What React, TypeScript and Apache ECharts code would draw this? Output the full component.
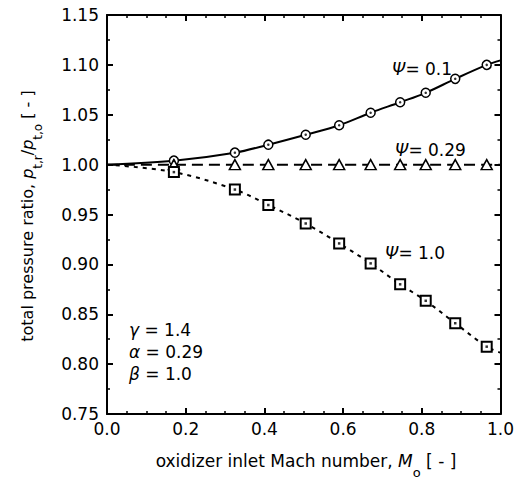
import React, { useEffect, useRef } from "react";
import * as echarts from "echarts";

// Oxidizer inlet Mach numbers of the plotted markers
const machPts = [0.17, 0.325, 0.41, 0.505, 0.59, 0.67, 0.745, 0.81, 0.885, 0.965];
// Total pressure ratio at the markers
const psi01 = [1.004, 1.012, 1.02, 1.03, 1.0395, 1.052, 1.0625, 1.072, 1.086, 1.1];
const psi029 = [1.0, 1.0, 1.0, 1.0, 1.0, 1.0, 1.0, 1.0, 1.0, 1.0];
const psi10 = [0.9925, 0.975, 0.9595, 0.941, 0.921, 0.901, 0.88, 0.8635, 0.841, 0.8175];
// Curve end points (M = 0 and M = 1)
const curveStartM = 0;
const curveEndM = 1.0;
const psi01Start = 1.0;
const psi01End = 1.1045;
const psi029Start = 1.0;
const psi029End = 1.0;
const psi10Start = 1.0;
const psi10End = 0.8115;

const xTicks = { min: 0, max: 1, step: 0.2 };
const yTicks = { min: 0.75, max: 1.15, step: 0.05 };

const FONT = "DejaVu Sans, Liberation Sans, Arial, sans-serif";

const pairs = (xs: number[], ys: number[]) => xs.map((x, i) => [x, ys[i]]);
const curve = (x0: number, y0: number, xs: number[], ys: number[], x1: number, y1: number) =>
  [[x0, y0], ...pairs(xs, ys), [x1, y1]];

export default function App() {
  const ref = useRef<HTMLDivElement>(null);
  useEffect(() => {
    if (!ref.current) return;
    const chart = echarts.init(ref.current, null, { renderer: "svg" });
    const black = "#000";
    const axisCommon = {
      type: "value" as const,
      axisLine: { show: true, onZero: false, lineStyle: { color: black, width: 2 } },
      axisTick: { show: true, inside: true, length: 6, lineStyle: { color: black, width: 2 } },
      minorTick: { show: true, length: 3, lineStyle: { color: black, width: 1.5 } },
      splitLine: { show: false },
      minorSplitLine: { show: false },
    };
    const xAxisBase = {
      ...axisCommon,
      min: xTicks.min,
      max: xTicks.max,
      interval: xTicks.step,
      minorTick: { ...axisCommon.minorTick, splitNumber: 4 },
    };
    const yAxisBase = {
      ...axisCommon,
      min: yTicks.min,
      max: yTicks.max,
      interval: yTicks.step,
      minorTick: { ...axisCommon.minorTick, splitNumber: 2 },
    };
    const lineSeries = (data: number[][], dash: any) => ({
      type: "line",
      data,
      smooth: 0.35,
      showSymbol: false,
      symbol: "none",
      lineStyle: { color: black, width: 2, type: dash },
      z: 2,
      silent: true,
    });
    const markerSeries = (data: number[][], symbol: string, size: any, bw: number) => ({
      type: "scatter",
      data,
      symbol,
      symbolSize: size,
      itemStyle: { color: "#fff", borderColor: black, borderWidth: bw, opacity: 1 },
      z: 3,
    });
    const dotSeries = (data: number[][], symbol: string) => ({
      type: "scatter",
      data,
      symbol,
      symbolSize: 2.5,
      itemStyle: { color: black },
      z: 4,
    });

    const subRich = {
      n: { fontSize: 17, fontFamily: FONT, color: black, lineHeight: 20 },
      i: { fontSize: 17, fontFamily: FONT, color: black, fontStyle: "italic", lineHeight: 20 },
      s: { fontSize: 13, fontFamily: FONT, color: black, lineHeight: 13, padding: [22, 0, 0, 0] },
    };
    const subRichY = {
      n: { fontSize: 16, fontFamily: FONT, color: black, lineHeight: 20 },
      i: { fontSize: 16, fontFamily: FONT, color: black, fontStyle: "italic", lineHeight: 20 },
      s: { fontSize: 12, fontFamily: FONT, color: black, lineHeight: 12, padding: [21, 0, 0, 0] },
    };
    const greekRich = {
      g: { fontSize: 17, fontFamily: FONT, color: black, fontStyle: "italic" },
      n: { fontSize: 17, fontFamily: FONT, color: black },
    };
    const label = (text: string, x: number, y: number) => ({
      type: "text",
      x,
      y,
      style: { text, rich: greekRich, align: "left", verticalAlign: "middle" },
      silent: true,
    });

    chart.setOption({
      animation: false,
      backgroundColor: "#fff",
      grid: { left: 107, right: 11, top: 15, bottom: 65, containLabel: false },
      xAxis: [
        {
          ...xAxisBase,
          position: "bottom",
          axisLabel: {
            show: true,
            color: black,
            fontSize: 17,
            fontFamily: FONT,
            margin: 6,
            formatter: (v: number) => v.toFixed(1),
          },
        },
        { ...xAxisBase, position: "top", axisLabel: { show: false } },
      ],
      yAxis: [
        {
          ...yAxisBase,
          position: "left",
          axisLabel: {
            show: true,
            color: black,
            fontSize: 17,
            fontFamily: FONT,
            margin: 8,
            formatter: (v: number) => v.toFixed(2),
          },
        },
        { ...yAxisBase, position: "right", axisLabel: { show: false } },
      ],
      series: [
        lineSeries(curve(curveStartM, psi01Start, machPts, psi01, curveEndM, psi01End), "solid"),
        lineSeries([[curveStartM, psi029Start], [curveEndM, psi029End]], [11, 6]),
        lineSeries(curve(curveStartM, psi10Start, machPts, psi10, curveEndM, psi10End), [4, 5]),
        markerSeries(pairs(machPts, psi01), "circle", 9, 1.5),
        dotSeries(pairs(machPts, psi01), "circle"),
        markerSeries(pairs(machPts, psi029), "triangle", [11, 10], 1.5),
        markerSeries(pairs(machPts, psi10), "rect", 10, 2),
        dotSeries(pairs(machPts, psi10), "rect"),
      ],
      graphic: [
        {
          type: "text",
          x: 306,
          y: 461,
          style: {
            text: "{n|oxidizer inlet Mach number, }{i|M}{s|o}{n| [ - ]}",
            rich: subRich,
            align: "center",
            verticalAlign: "middle",
          },
          silent: true,
        },
        {
          type: "text",
          x: 27,
          y: 216,
          rotation: Math.PI / 2,
          style: {
            text: "{n|total pressure ratio, }{i|p}{s|t,r}{n|/}{i|p}{s|t,o}{n| [ - ]}",
            rich: subRichY,
            align: "center",
            verticalAlign: "middle",
          },
          silent: true,
        },
        label("{g|Ψ}{n|= 0.1}", 392, 69),
        label("{g|Ψ}{n|= 0.29}", 395, 150),
        label("{g|Ψ}{n|= 1.0}", 385, 253),
        label("{g|γ}{n| = 1.4}", 129, 330),
        label("{g|α}{n| = 0.29}", 129, 352),
        label("{g|β}{n| = 1.0}", 129, 374),
      ],
    });
    return () => chart.dispose();
  }, []);
  return (
    <div
      ref={ref}
      style={{ position: "fixed", left: 0, top: 0, width: 517, height: 479, background: "#fff" }}
    />
  );
}
